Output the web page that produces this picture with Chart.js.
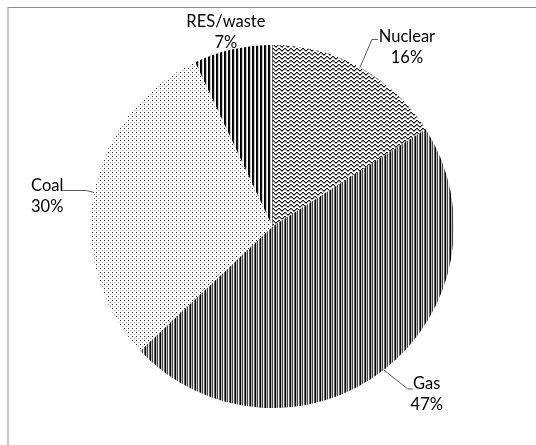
<!DOCTYPE html>
<html>
<head>
<meta charset="utf-8">
<script src="https://cdn.jsdelivr.net/npm/chart.js@4"></script>
<style>
  html, body { margin: 0; padding: 0; background: #fff; overflow: hidden; }
  #wrap { position: relative; width: 536px; height: 445px; }
  #frame { position: absolute; left: 7px; top: 7px; width: 600px; height: 600px;
           border-top: 1px solid #8c8c8c; border-left: 2px solid #c8c8c8; }
  canvas { position: absolute; left: 0; top: 0; }
</style>
</head>
<body>
<div id="wrap">
  <div id="frame"></div>
  <canvas id="pie" width="536" height="445"></canvas>
</div>
<script>
// Electricity mix — pie with hatched fills and outside labels
const categories = ['Nuclear', 'Gas', 'Coal', 'RES/waste']
const shares = [16, 47, 30, 7]
const pctLabels = ['16%', '47%', '30%', '7%']

function makePattern (w, h, draw) {
  const c = document.createElement('canvas')
  c.width = w
  c.height = h
  const ctx = c.getContext('2d')
  ctx.fillStyle = '#fff'
  ctx.fillRect(0, 0, w, h)
  draw(ctx)
  return document.getElementById('pie').getContext('2d').createPattern(c, 'repeat')
}

function px (ctx, x, y, col) { ctx.fillStyle = col; ctx.fillRect(x, y, 1, 1) }

// wave
const wavePat = makePattern(6, 4, ctx => {
  const ys = [2, 1, 0, 0, 1, 2]
  ys.forEach((y, x) => {
    px(ctx, x, y, '#1a1a1a')
    px(ctx, x, y + 1, '#9a9a9a')
  })
})
// narrow vertical
const narrowPat = makePattern(5, 1, ctx => {
  ['#000', '#bbb', '#444', '#eee', '#666'].forEach((c, x) => px(ctx, x, 0, c))
})
// dotted
const dotPat = makePattern(4, 4, ctx => {
  px(ctx, 0, 0, '#222')
  px(ctx, 2, 2, '#a0a0a0')
})
// wide vertical
const widePat = makePattern(4, 1, ctx => {
  ['#000', '#111', '#ccc', '#fff'].forEach((c, x) => px(ctx, x, 0, c))
})

// label placement relative to the slice edge at its mid angle
const labelPlace = [
  { tx: 47, ty: -20, line: [[12, -28], [18, -28]] },
  { tx: 43, ty: 24.5, line: [[24, 19], [29, 19]] },
  { tx: -47, ty: 3.5, line: [[-8, -2], [-32, -2]] },
  { tx: -7, ty: -17, line: null }
]

const outsideLabels = {
  id: 'outsideLabels',
  afterDraw (chart) {
    const ctx = chart.ctx
    const arcs = chart.getDatasetMeta(0).data
    ctx.save()
    arcs.forEach((arc, i) => {
      const { x, y, startAngle, endAngle, outerRadius } = arc.getProps(['x', 'y', 'startAngle', 'endAngle', 'outerRadius'], true)
      const mid = (startAngle + endAngle) / 2
      const ax = x + Math.cos(mid) * outerRadius
      const ay = y + Math.sin(mid) * outerRadius
      const p = labelPlace[i]
      if (p.line) {
        ctx.strokeStyle = '#595959'
        ctx.lineWidth = 1
        ctx.beginPath()
        ctx.moveTo(ax, ay)
        p.line.forEach(([dx, dy]) => ctx.lineTo(ax + dx, ay + dy))
        ctx.stroke()
      }
      ctx.fillStyle = '#000'
      ctx.font = '16.5px Lato'
      ctx.textAlign = 'center'
      ctx.textBaseline = 'middle'
      const cx = ax + p.tx, cy = ay + p.ty
      ctx.fillText(categories[i], cx, cy - 10.5)
      ctx.fillText(pctLabels[i], cx, cy + 10.5)
    })
    ctx.restore()
  }
}

new Chart(document.getElementById('pie'), {
  type: 'pie',
  data: {
    labels: categories,
    datasets: [{
      data: shares,
      backgroundColor: [wavePat, narrowPat, dotPat, widePat],
      borderWidth: 0
    }]
  },
  options: {
    responsive: false,
    devicePixelRatio: 1,
    animation: false,
    layout: { padding: { top: 45, bottom: 37, left: 90, right: 81 } },
    plugins: { legend: { display: false }, tooltip: { enabled: false } }
  },
  plugins: [outsideLabels]
})
</script>
</body>
</html>
